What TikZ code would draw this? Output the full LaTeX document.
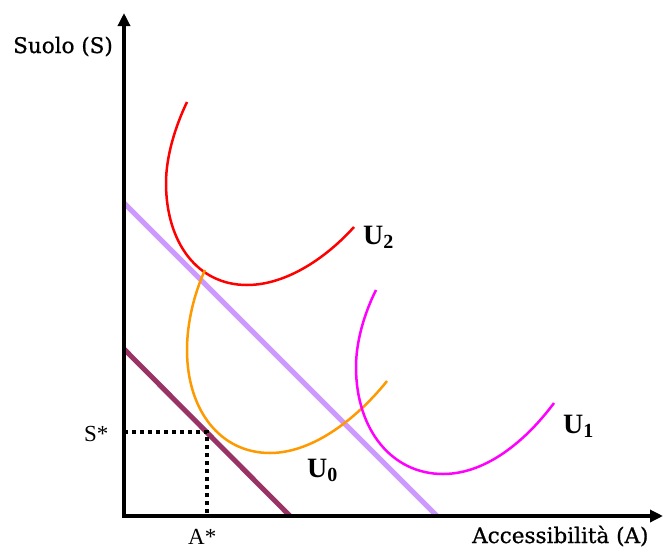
\documentclass[tikz,border=0pt]{standalone}
\usepackage{fontspec}
\setmainfont{Liberation Serif}
\newfontfamily\axfont[FakeBold=0.8]{DejaVu Serif}
\usetikzlibrary{arrows.meta}
\definecolor{lav}{RGB}{204,153,255}
\definecolor{maroonc}{RGB}{153,51,102}
\definecolor{orng}{RGB}{255,153,0}
\definecolor{magc}{RGB}{255,0,255}
\begin{document}
\begin{tikzpicture}[x=1pt,y=-1pt,
  axlab/.style={inner sep=0pt,anchor=base west,font=\axfont\fontsize{21.5}{21.5}\selectfont},
  starlab/.style={inner sep=0pt,anchor=base west,font=\fontsize{23}{23}\selectfont},
  ulab/.style={inner sep=0pt,anchor=base west,font=\bfseries\fontsize{28}{28}\selectfont},
  ucurve/.style={line width=2.5pt},
  budget/.style={line width=5pt},
  guide/.style={line width=4pt,dash pattern=on 4pt off 4pt}]
\useasboundingbox (0,0) rectangle (664,549);
% axes
\coordinate (O) at (124,516);
\coordinate (Ytop) at (124,13);
\coordinate (Xend) at (663,516);
% budget lines
\coordinate (La) at (124,203);
\coordinate (Lb) at (437,516);
\coordinate (Ma) at (124,349);
\coordinate (Mb) at (290,516);
\coordinate (E) at (207,432);
\coordinate (Es) at (124,432);
\coordinate (Ea) at (207,516);
\draw[budget,lav] (La) -- (Lb);
\draw[budget,maroonc] (Ma) -- (Mb);
\draw[guide] (Es) -- (E) -- (Ea);
% indifference curves
\draw[ucurve,red] (187,102) .. controls (175,127) and (166,157) .. (166,183)
  .. controls (166,242) and (197,285) .. (247,285)
  .. controls (287,285) and (327,257) .. (354,227);
\draw[ucurve,orng] (205,270) .. controls (194,294) and (187,323) .. (187,350)
  .. controls (187,410) and (220,453) .. (270,453)
  .. controls (315,453) and (360,415) .. (387,381);
\draw[ucurve,magc] (376,290) .. controls (364,314) and (356,342) .. (356,367)
  .. controls (356,430) and (392,474) .. (443,474)
  .. controls (488,474) and (528,438) .. (554,403);
\draw[line width=4pt,line join=miter,{Triangle[length=13pt,width=12pt]}-{Triangle[length=13pt,width=12pt]}] (Ytop) -- (O) -- (Xend);
% labels
\node[axlab] (ylab) at (13,53) {Suolo (S)};
\node[axlab] (xlab) at (472,543) {Accessibilità (A)};
\node[starlab] (sst) at (84,441) {S*};
\node[starlab] (ast) at (188,544) {A*};
\node[ulab] (u2) at (363,244) {U\raisebox{-4pt}{\fontsize{20}{20}\selectfont 2}};
\node[ulab] (u0) at (307,477) {U\raisebox{-4pt}{\fontsize{20}{20}\selectfont 0}};
\node[ulab] (u1) at (563,433) {U\raisebox{-4pt}{\fontsize{20}{20}\selectfont 1}};
\end{tikzpicture}
\end{document}
